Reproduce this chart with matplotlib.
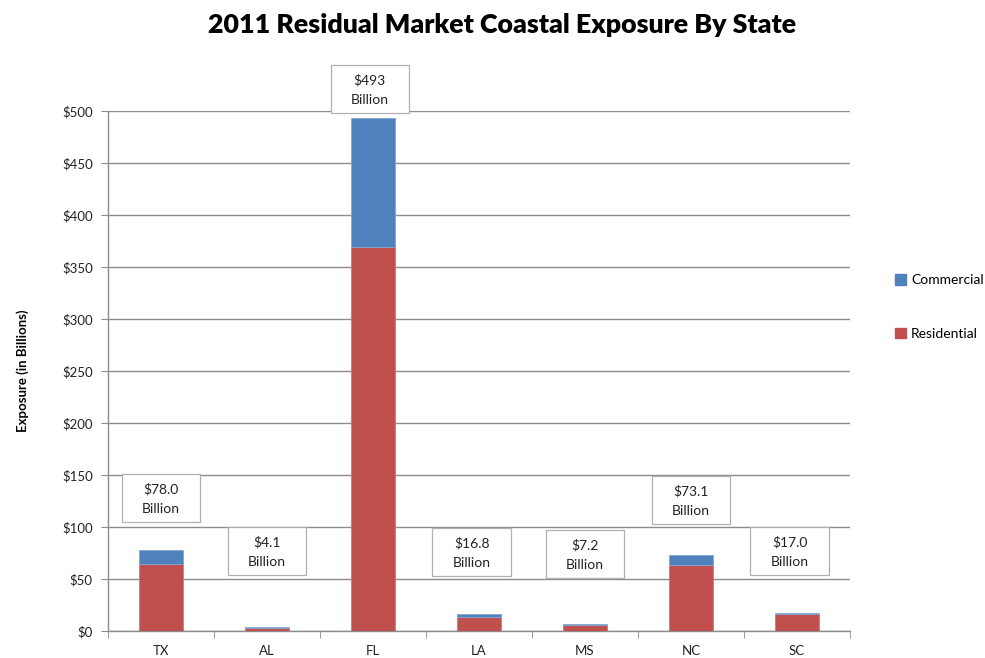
import matplotlib
matplotlib.use("Agg")
import matplotlib.pyplot as plt
from matplotlib.patches import Rectangle, Patch
import numpy as np

states = ["TX", "AL", "FL", "LA", "MS", "NC", "SC"]
residential = [64.5, 3.0, 369.0, 13.6, 6.0, 63.5, 16.0]
commercial = [13.5, 1.1, 124.0, 3.2, 1.2, 9.6, 1.0]
total_labels = ["$78.0", "$4.1", "$493", "$16.8", "$7.2", "$73.1", "$17.0"]
label_centers = [128, 77, 521, 76, 74, 126, 77]
label_shift = [0, 0, -0.03, -0.07, 0, 0, -0.07]
yticks = [0, 50, 100, 150, 200, 250, 300, 350, 400, 450, 500]

RED = "#C0504D"
BLUE = "#4F81BD"
GRID = "#8c8c8c"

plt.rcParams['font.family'] = ['Lato', 'DejaVu Sans']

fig = plt.figure(figsize=(9.85, 6.58), dpi=100)
ax = fig.add_axes([108/985, 27/658, (850-108)/985, (631-111)/658])

x = np.arange(len(states))
w = 0.42
ax.bar(x, residential, width=w, color=RED, edgecolor="#d07a78", linewidth=0.6, zorder=3)
ax.bar(x, commercial, width=w, bottom=residential, color=BLUE, edgecolor="#86a6d2", linewidth=0.6, zorder=3)

ax.set_xlim(-0.5, len(states) - 0.5)
ax.set_ylim(0, 500)
ax.set_yticks(yticks)
ax.set_yticklabels([f"${v}" for v in yticks], fontsize=9.5, color="#222222")
ax.set_xticks(x)
ax.set_xticklabels(states, fontsize=9.5, color="#222222")
ax.set_xticks(np.arange(len(states) + 1) - 0.5, minor=True)
ax.tick_params(axis="x", which="major", length=0, pad=10)
ax.tick_params(axis="x", which="minor", length=5, color=GRID, direction="out")
ax.tick_params(axis="y", length=5, color=GRID, direction="out", pad=6)

ax.yaxis.grid(True, color=GRID, linewidth=1.0, zorder=0)
ax.set_axisbelow(True)
for s in ["top", "right"]:
    ax.spines[s].set_visible(False)
for s in ["left", "bottom"]:
    ax.spines[s].set_color(GRID)
    ax.spines[s].set_linewidth(1.0)

# total labels in boxes
bw = 0.74
bh = 46
for xi, lab, yc, dx in zip(x, total_labels, label_centers, label_shift):
    cx = xi + dx
    r = Rectangle((cx - bw/2, yc - bh/2), bw, bh, facecolor="white",
                  edgecolor="#b0b0b0", linewidth=0.9, zorder=5, clip_on=False)
    ax.add_patch(r)
    ax.text(cx, yc - 1, f"{lab}\nBillion", ha="center", va="center", fontsize=10,
            linespacing=1.75, color="#222222", zorder=6, clip_on=False)

ax.set_ylabel("Exposure (in Billions)", fontsize=9.5, fontweight="bold", labelpad=24)

fig.text(0.510, 0.962, "2011 Residual Market Coastal Exposure By State",
         ha="center", va="center", fontsize=19.3, fontweight="heavy")

handles = [Patch(facecolor=BLUE, edgecolor=BLUE), Patch(facecolor=RED, edgecolor=RED)]
fig.legend(handles, ["Commercial", "Residential"], loc="center left",
           bbox_to_anchor=(882/985, 1 - 307/658), frameon=False, fontsize=10,
           labelspacing=3.0, handlelength=0.8, handleheight=0.8, handletextpad=0.4)

fig.savefig("out.png", dpi=100)
